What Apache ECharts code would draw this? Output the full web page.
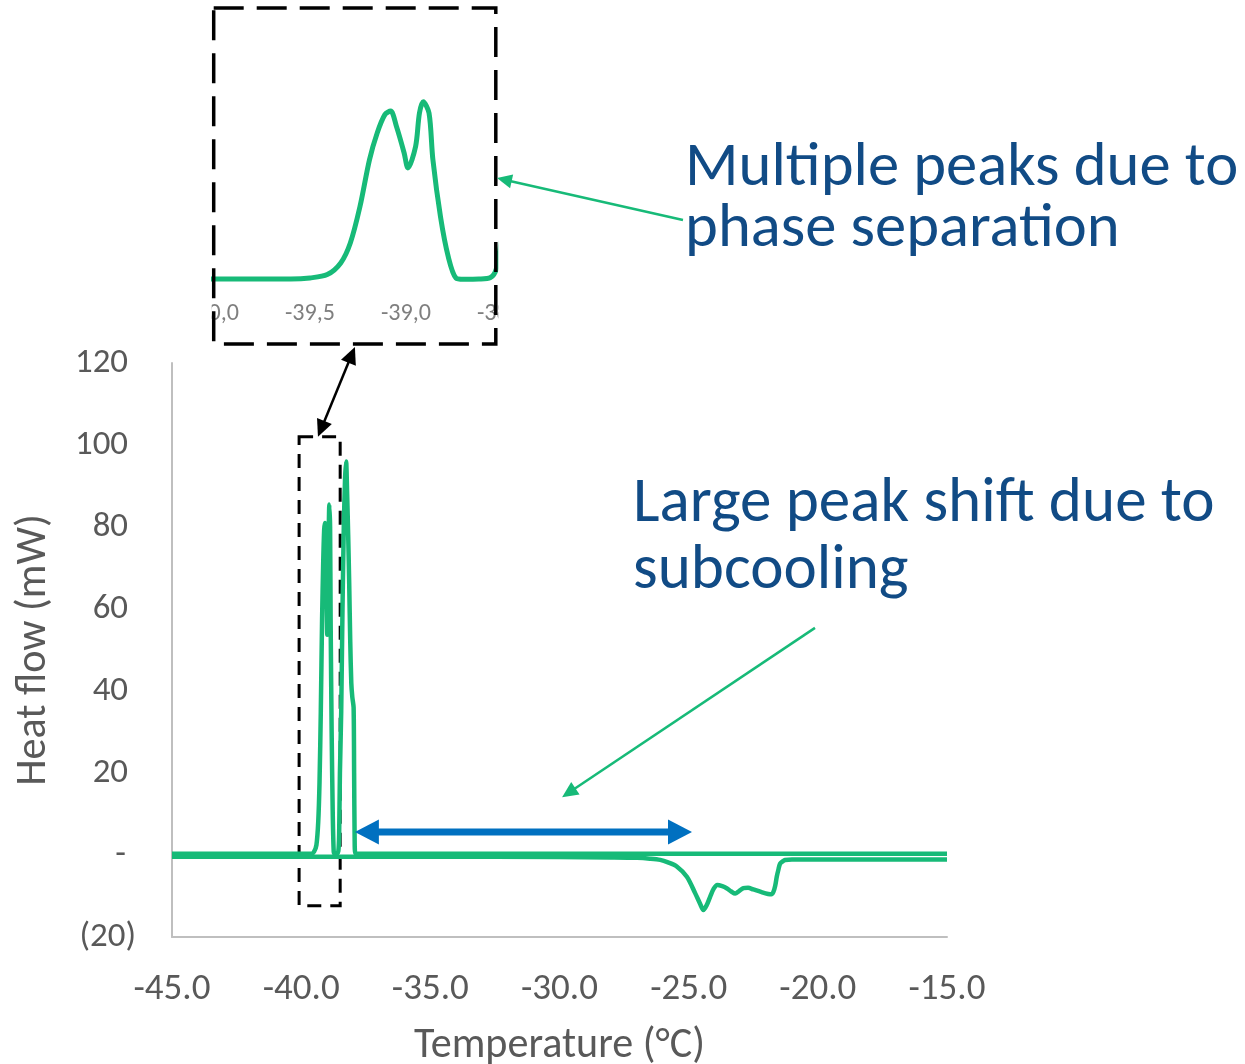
<!DOCTYPE html>
<html><head><meta charset="utf-8">
<script src="https://cdn.jsdelivr.net/npm/echarts@6/dist/echarts.min.js"></script>
<style>html,body{margin:0;padding:0;background:#fff}#c{width:1245px;height:1064px}</style>
</head><body><div id="c"></div>
<script>
// ---------------- DATA ----------------
// Cooling run (exothermic crystallisation peaks)
const coolTemp = [-45, -40, -39.6, -39.5, -39.41, -39.34, -39.29, -39.24, -39.19, -39.15, -39.11, -39.08, -39.05, -39.01, -38.99, -38.95, -38.93, -38.91, -38.88, -38.86, -38.82, -38.78, -38.74, -38.7, -38.62, -38.56, -38.53, -38.5, -38.45, -38.4, -38.35, -38.3, -38.26, -38.22, -38.18, -38.14, -38.1, -38.06, -38.02, -37.97, -37.95, -37.93, -37.9, -30, -15];
const coolFlow = [0.3, 0.3, 0.3, 0.8, 2.4, 8, 17.6, 35, 57.7, 70.5, 79.3, 81, 73.7, 61, 53.7, 64, 80, 85.5, 80, 57.7, 30, 11, 0.8, 0.2, 0.3, 1, 5, 20, 35, 60, 80, 92, 96, 88, 78, 66, 52, 42, 38.5, 36, 20, 4, 0.3, 0.3, 0.3];
// Heating run (endothermic melting)
const heatTemp = [-45, -35, -30, -28, -27, -26.5, -26.1, -25.8, -25.46, -25.07, -24.75, -24.55, -24.43, -24.3, -24.17, -24.03, -23.89, -23.7, -23.53, -23.35, -23.2, -23.05, -22.88, -22.7, -22.5, -22.2, -21.92, -21.8, -21.72, -21.65, -21.59, -21.52, -21.46, -21.35, -21.27, -21.0, -20.69, -15];
const heatFlow = [-0.4, -0.4, -0.5, -0.6, -0.7, -0.9, -1.2, -1.8, -2.8, -5.3, -9.3, -12, -13.4, -12.2, -10.2, -8.2, -7.3, -7.6, -8.1, -8.9, -9.4, -8.8, -8.1, -8.0, -8.4, -9.0, -9.5, -9.6, -9.0, -7.5, -5.3, -3.4, -2.1, -1.5, -1.2, -1.1, -1.1, -1.1];
// Axis ticks
const xTicks = [-45, -15, 5];          // min, max, interval
const yTicks = [-20, 120, 20];
const insetTicks = [-40, -38.5, 0.5];
const insetY = [-5, 120];
// Texts
const xTitle = 'Temperature (°C)';
const yTitle = 'Heat flow (mW)';
const note1 = ['Multiple peaks due to', 'phase separation'];
const note2 = ['Large peak shift due to', 'subcooling'];
// Annotation anchors in main-chart data coordinates
const zoomBox = [[-40.08, 102], [-38.49, -12.4]];
const shiftArrow = [[-37.92, 5.6], [-24.87, 5.6]];
const peakArrow = [[-20.11, 55.4], [-29.9, 14.1]];
const linkArrow = [[-39.35, 102], [-37.92, 123.9]];
const insetArrow = [[-25.22, 154.9], [-32.42, 165.1]];

// ---------------- STYLE ----------------
const FONT = 'Carlito, Lato, sans-serif';
const GREEN = '#17BA78';
const NAVY = '#114B85';
const GRAY = '#595959';
const cv = document.createElement('canvas').getContext('2d');
function fit(text, w) { cv.font = '100px ' + FONT; return Math.round(100 * w / cv.measureText(text).width * 10) / 10; }
const ySize = fit('120', 53);
const xSize = fit('-45.0', 77);
const inSize = fit('-39,5', 50);
const xtSize = fit(xTitle, 291);
const ytSize = fit(yTitle, 272);
const n1Size = fit(note1[0], 553);
const n2Size = fit(note2[0], 582);

const zip = (a, b) => a.map((v, i) => [v, b[i]]);
const INSET = { x1: 213.7, y1: 8, x2: 495.8, y2: 344 };

const chart = echarts.init(document.getElementById('c'), null, { renderer: 'canvas' });
chart.setOption({
  animation: false,
  textStyle: { fontFamily: FONT },
  grid: [
    { left: 172, top: 363, width: 775, height: 574, containLabel: false, outerBoundsMode: 'none' },
    { left: 214, top: 30, width: 288, height: 260, containLabel: false, outerBoundsMode: 'none' }
  ],
  xAxis: [
    { type: 'value', gridIndex: 0, min: xTicks[0], max: xTicks[1], interval: xTicks[2],
      axisLine: { show: true, onZero: false, lineStyle: { color: '#BFBFBF', width: 2 } },
      axisTick: { show: false }, splitLine: { show: false },
      axisLabel: { formatter: v => v.toFixed(1), color: GRAY, fontSize: xSize, fontFamily: FONT, margin: 34 },
      name: xTitle, nameLocation: 'middle', nameGap: 88,
      nameTextStyle: { color: GRAY, fontSize: xtSize, fontFamily: FONT } },
    { type: 'value', gridIndex: 1, min: insetTicks[0], max: insetTicks[1], interval: insetTicks[2],
      axisLine: { show: false }, axisTick: { show: false }, splitLine: { show: false },
      axisLabel: { formatter: v => v.toFixed(1).replace('.', ','), color: '#7F7F7F', fontSize: inSize, fontFamily: FONT,
        margin: 12, showMinLabel: true, showMaxLabel: true, hideOverlap: false } }
  ],
  yAxis: [
    { type: 'value', gridIndex: 0, min: yTicks[0], max: yTicks[1], interval: yTicks[2],
      axisLine: { show: true, onZero: false, lineStyle: { color: '#BFBFBF', width: 2 } },
      axisTick: { show: false }, splitLine: { show: false },
      axisLabel: {
        margin: 36, color: GRAY, fontSize: ySize, fontFamily: FONT,
        formatter: v => v > 0 ? '{p|' + v + '}' : (v === 0 ? '{z|-}' : '{n|(' + Math.abs(v) + ')}'),
        rich: {
          p: { padding: [0, 8, 0, 0], fontSize: ySize, color: GRAY, fontFamily: FONT },
          z: { padding: [0, 10, 0, 0], fontSize: ySize, color: GRAY, fontFamily: FONT },
          n: { fontSize: ySize, color: GRAY, fontFamily: FONT }
        }
      },
      name: yTitle, nameLocation: 'middle', nameGap: 117, nameRotate: 90,
      nameTextStyle: { color: GRAY, fontSize: ytSize, fontFamily: FONT } },
    { type: 'value', gridIndex: 1, min: insetY[0], max: insetY[1], show: false }
  ],
  series: [
    { type: 'line', name: 'heating', xAxisIndex: 0, yAxisIndex: 0, data: zip(heatTemp, heatFlow),
      showSymbol: false, smooth: 0.3, lineStyle: { color: GREEN, width: 4.5 }, itemStyle: { color: GREEN } },
    { type: 'line', name: 'cooling', xAxisIndex: 0, yAxisIndex: 0, data: zip(coolTemp, coolFlow),
      showSymbol: false, smooth: 0.25, lineStyle: { color: GREEN, width: 4.5 }, itemStyle: { color: GREEN },
      markArea: { silent: true, itemStyle: { color: 'rgba(0,0,0,0)', borderColor: '#000', borderWidth: 3, borderType: [14, 9] },
        data: [[{ coord: zoomBox[0] }, { coord: zoomBox[1] }]] } },
    { type: 'line', name: 'cooling zoom', xAxisIndex: 1, yAxisIndex: 1, data: zip(coolTemp, coolFlow),
      showSymbol: false, smooth: 0.3, lineStyle: { color: GREEN, width: 5 }, itemStyle: { color: GREEN } }
  ]
});

// ---------------- ANNOTATIONS ----------------
const px = p => chart.convertToPixel({ gridIndex: 0 }, p);
function head(tip, from, len, hw) {
  const dx = tip[0] - from[0], dy = tip[1] - from[1], d = Math.hypot(dx, dy);
  const ux = dx / d, uy = dy / d, bx = tip[0] - ux * len, by = tip[1] - uy * len;
  return [[tip[0], tip[1]], [bx - uy * hw, by + ux * hw], [bx + uy * hw, by - ux * hw]];
}
function arrow(a, b, color, lw, len, hw, both) {
  const dx = b[0] - a[0], dy = b[1] - a[1], d = Math.hypot(dx, dy), ux = dx / d, uy = dy / d;
  const s = both ? [a[0] + ux * len * 0.8, a[1] + uy * len * 0.8] : a;
  const e = [b[0] - ux * len * 0.8, b[1] - uy * len * 0.8];
  const els = [
    { type: 'polyline', z: 110, shape: { points: [s, e] }, style: { stroke: color, lineWidth: lw, fill: null } },
    { type: 'polygon', z: 111, shape: { points: head(b, a, len, hw) }, style: { fill: color } }
  ];
  if (both) els.push({ type: 'polygon', z: 111, shape: { points: head(a, b, len, hw) }, style: { fill: color } });
  return els;
}
function txt(t, x, y, size) {
  return { type: 'text', z: 120, style: { text: t, x: x, y: y, fontSize: size, fontFamily: FONT, fill: NAVY, align: 'left', verticalAlign: 'middle' } };
}
const g = [];
// white masks that crop the inset (it is a cropped screenshot)
g.push({ type: 'rect', z: 100, shape: { x: 150, y: 292, width: INSET.x1 - 2 - 150, height: 45 }, style: { fill: '#fff' } });
g.push({ type: 'rect', z: 100, shape: { x: INSET.x2 + 2.5, y: 12, width: 40, height: 330 }, style: { fill: '#fff' } });
g.push({ type: 'rect', z: 105, shape: { x: INSET.x1, y: INSET.y1, width: INSET.x2 - INSET.x1, height: INSET.y2 - INSET.y1 },
  style: { fill: null, stroke: '#000', lineWidth: 3.5, lineDash: [30, 13] } });
g.push(...arrow(px(shiftArrow[0]), px(shiftArrow[1]), '#0070C0', 7, 24, 12.5, true));
g.push(...arrow(px(peakArrow[0]), px(peakArrow[1]), GREEN, 2.5, 16, 7.5, false));
g.push(...arrow(px(linkArrow[0]), px(linkArrow[1]), '#000', 2.5, 17, 8, true));
g.push(...arrow(px(insetArrow[0]), px(insetArrow[1]), GREEN, 2.5, 15, 7, false));
g.push(txt(note1[0], 685, 169, n1Size), txt(note1[1], 685, 230, n1Size));
g.push(txt(note2[0], 633, 505, n2Size), txt(note2[1], 633, 572, n2Size));
chart.setOption({ graphic: g });
</script></body></html>
